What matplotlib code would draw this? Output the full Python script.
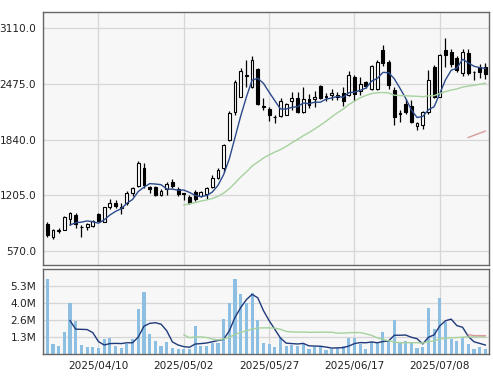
import numpy as np
import pandas as pd
import matplotlib
matplotlib.use("Agg")
import matplotlib.pyplot as plt

# daily prices (78 trading days)
opens = [878, 726, 800, 810, 932, 977, 840, 847, 855, 992,
         904, 1069, 1114, 1064, 1114, 1235, 1311, 1513, 1294, 1300,
         1209, 1277, 1360, 1274, 1226, 1189, 1240, 1201, 1217, 1297,
         1399, 1513, 1836, 2159, 2330, 2566, 2444, 2642, 2224, 2186,
         2098, 2113, 2125, 2284, 2312, 2159, 2300, 2300, 2452, 2326,
         2349, 2349, 2366, 2344, 2555, 2389, 2492, 2418, 2418, 2857,
         2729, 2406, 2144, 2250, 2220, 1992, 2007, 2155, 2672, 2330,
         2863, 2843, 2771, 2597, 2832, 2610, 2663, 2669]
highs = [904, 821, 829, 968, 1015, 1007, 867, 893, 924, 1000,
         1075, 1160, 1152, 1114, 1258, 1303, 1591, 1570, 1306, 1306,
         1272, 1357, 1388, 1297, 1235, 1209, 1266, 1258, 1297, 1431,
         1517, 1790, 2167, 2520, 2657, 2748, 2791, 2657, 2312, 2216,
         2121, 2312, 2258, 2378, 2378, 2444, 2361, 2395, 2463, 2369,
         2414, 2384, 2441, 2626, 2577, 2549, 2503, 2691, 2745, 2914,
         2748, 2435, 2178, 2304, 2292, 2045, 2167, 2634, 2691, 2814,
         2996, 2876, 2794, 2868, 2870, 2626, 2703, 2714]
lows = [726, 704, 779, 805, 867, 832, 726, 810, 840, 910,
        900, 1046, 1057, 992, 1095, 1197, 1300, 1285, 1232, 1197,
        1192, 1209, 1292, 1197, 1152, 1100, 1140, 1183, 1160, 1283,
        1391, 1471, 1825, 2121, 2326, 2444, 2429, 2235, 2178, 2058,
        2033, 2102, 2116, 2173, 2147, 2144, 2195, 2212, 2298, 2275,
        2287, 2292, 2224, 2338, 2275, 2344, 2429, 2406, 2406, 2674,
        2418, 2007, 2041, 2133, 2030, 1953, 1961, 2133, 2312, 2321,
        2672, 2672, 2612, 2570, 2577, 2520, 2540, 2532]
closes = [749, 810, 810, 961, 1000, 878, 845, 878, 916, 916,
          1069, 1121, 1083, 1072, 1228, 1285, 1577, 1323, 1277, 1205,
          1249, 1329, 1315, 1217, 1214, 1112, 1163, 1240, 1285, 1406,
          1494, 1779, 2141, 2501, 2627, 2577, 2748, 2243, 2216, 2118,
          2093, 2275, 2244, 2312, 2159, 2298, 2235, 2330, 2312, 2332,
          2366, 2326, 2275, 2577, 2361, 2475, 2446, 2674, 2729, 2709,
          2463, 2093, 2133, 2159, 2045, 2030, 2150, 2520, 2330, 2805,
          2805, 2697, 2634, 2843, 2597, 2615, 2615, 2589]
# volume in millions of shares
volumes = [5.9, 0.8, 0.64, 1.76, 3.99, 2.55, 0.72, 0.56, 0.56, 0.48,
           1.2, 1.28, 0.64, 0.48, 0.8, 1.2, 3.54, 4.87, 1.6, 1.04,
           0.64, 0.96, 0.48, 0.4, 0.4, 0.4, 2.23, 0.64, 0.64, 0.88,
           0.88, 2.71, 3.99, 5.9, 4.71, 3.99, 4.79, 2.63, 0.88, 0.8,
           0.56, 1.36, 0.64, 0.72, 0.64, 0.8, 0.4, 0.56, 0.64, 0.32,
           0.4, 0.48, 0.64, 1.28, 1.28, 0.8, 0.4, 0.96, 0.96, 1.76,
           1.04, 2.63, 0.96, 1.04, 0.88, 0.48, 0.56, 3.59, 1.99, 4.39,
           2.5, 1.2, 1.04, 1.36, 0.8, 0.4, 0.56, 0.4]

tick_pos = [9, 24, 39, 54, 69]
tick_labels = ["2025/04/10", "2025/05/02", "2025/05/27", "2025/06/17", "2025/07/08"]
price_ticks = [570.0, 1205.0, 1840.0, 2475.0, 3110.0]
vol_ticks = [1.325, 2.65, 3.975, 5.3]
vol_labels = ["1.3M", "2.6M", "4.0M", "5.3M"]

x = np.arange(len(closes))
c = pd.Series(closes, dtype=float)
v = pd.Series(volumes, dtype=float)

fig = plt.figure(figsize=(4.93, 3.86), dpi=100)
ax = fig.add_axes([0.0878, 0.3135, 0.9047, 0.6546])
axv = fig.add_axes([0.0878, 0.0829, 0.9047, 0.2190])

for a in (ax, axv):
    a.set_facecolor("#f7f7f7")
    a.set_xlim(-0.7, 77.7)
    a.set_xticks(tick_pos)
    a.grid(True, color="#d6d6d6", lw=0.9)
    a.set_axisbelow(True)
    a.tick_params(length=0, labelsize=7.6, colors="#222222", pad=5)
    for s in a.spines.values():
        s.set_color("#666666")
        s.set_linewidth(1.0)

# candles
o = np.array(opens, float)
cl = np.array(closes, float)
up = cl >= o
ax.vlines(x, lows, highs, color="black", lw=0.9, zorder=2)
body_lo = np.minimum(o, cl)
body_h = np.maximum(np.abs(cl - o), 6)
ax.bar(x[up], body_h[up], bottom=body_lo[up], width=0.5,
       facecolor="white", edgecolor="black", lw=0.8, zorder=3)
ax.bar(x[~up], body_h[~up], bottom=body_lo[~up], width=0.5,
       facecolor="black", edgecolor="black", lw=0.8, zorder=3)

ax.plot(x, c.rolling(5).mean(), color="#2b4a8b", lw=1.0, zorder=4)
ax.plot(x, c.rolling(25).mean(), color="#a6d29e", lw=1.0, zorder=4)
ax.plot(x, c.rolling(75).mean(), color="#d99a9a", lw=1.0, zorder=4)

ax.set_ylim(410, 3292)
ax.set_yticks(price_ticks)
ax.set_yticklabels(["%.1f" % p for p in price_ticks])
ax.set_xticklabels([])

# volume
axv.bar(x, volumes, width=0.55, color="#8dbfe2", zorder=2)
axv.plot(x, v.rolling(5).mean(), color="#1f3a7a", lw=1.0, zorder=3)
axv.plot(x, v.rolling(25).mean(), color="#a6d29e", lw=1.0, zorder=3)
axv.plot(x, v.rolling(75).mean(), color="#d99a9a", lw=1.0, zorder=3)
axv.set_ylim(0, 6.625)
axv.set_yticks(vol_ticks)
axv.set_yticklabels(vol_labels)
axv.set_xticklabels(tick_labels)

fig.savefig("out.png", dpi=100)
